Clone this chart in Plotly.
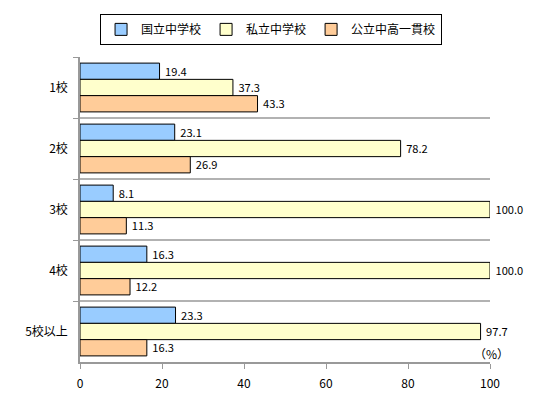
import plotly.graph_objects as go

# Data
categories = ["1校", "2校", "3校", "4校", "5校以上"]
series_names = ["国立中学校", "私立中学校", "公立中高一貫校"]
kokuritsu = [19.4, 23.1, 8.1, 16.3, 23.3]
shiritsu = [37.3, 78.2, 100.0, 100.0, 97.7]
koritsu = [43.3, 26.9, 11.3, 12.2, 16.3]
x_ticks = [0, 20, 40, 60, 80, 100]

COLORS = ["#99CCFF", "#FFFFCC", "#FFCC99"]
FONT = "Noto Sans CJK JP"

fig = go.Figure()
for name, vals, color in zip(series_names, [kokuritsu, shiritsu, koritsu], COLORS):
    fig.add_trace(go.Bar(
        y=categories,
        x=vals,
        orientation="h",
        name=name,
        marker=dict(color=color, line=dict(color="black", width=1)),
        text=["\u00a0" + f"{v:.1f}" for v in vals],
        textposition="outside",
        textfont=dict(size=13, color="black", family=FONT),
        cliponaxis=False,
    ))

# separators between categories
for b in [0.5, 1.5, 2.5, 3.5]:
    fig.add_shape(type="line", xref="x", yref="y", x0=-1.2, x1=100, y0=b, y1=b,
                  line=dict(color="#999999", width=1.5), layer="below")

fig.add_annotation(text="（%）", xref="paper", yref="paper", x=0.955, y=0.0,
                   xanchor="left", yanchor="bottom", yshift=-2,
                   showarrow=False, font=dict(size=12, color="black", family=FONT))

# the page body adds an 8px offset, so the figure is drawn 8px smaller
fig.update_layout(
    width=537,
    height=392,
    barmode="group",
    bargap=0.2,
    bargroupgap=0,
    plot_bgcolor="white",
    paper_bgcolor="white",
    margin=dict(t=49, b=38, l=72, r=55, autoexpand=False),
    font=dict(family=FONT, size=12, color="black"),
    showlegend=True,
    legend=dict(
        orientation="h",
        x=0.466, xanchor="center",
        yref="container",
        y=0.985, yanchor="top",
        bordercolor="black", borderwidth=1,
        font=dict(size=12, family=FONT),
        traceorder="normal",
        itemwidth=30,
    ),
    xaxis=dict(
        range=[0, 100],
        tickvals=x_ticks,
        showgrid=False,
        showline=True,
        linecolor="#999999",
        linewidth=1.5,
        ticks="outside",
        ticklen=5,
        tickcolor="#999999",
        tickfont=dict(size=12),
        ticklabelstandoff=5,
        zeroline=False,
    ),
    yaxis=dict(
        autorange="reversed",
        showgrid=False,
        showline=True,
        linecolor="#999999",
        linewidth=1.5,
        ticks="outside",
        tickson="boundaries",
        ticklen=5,
        tickcolor="#999999",
        tickfont=dict(size=12),
        ticklabelstandoff=8,
    ),
)

fig.write_html("out.html")
